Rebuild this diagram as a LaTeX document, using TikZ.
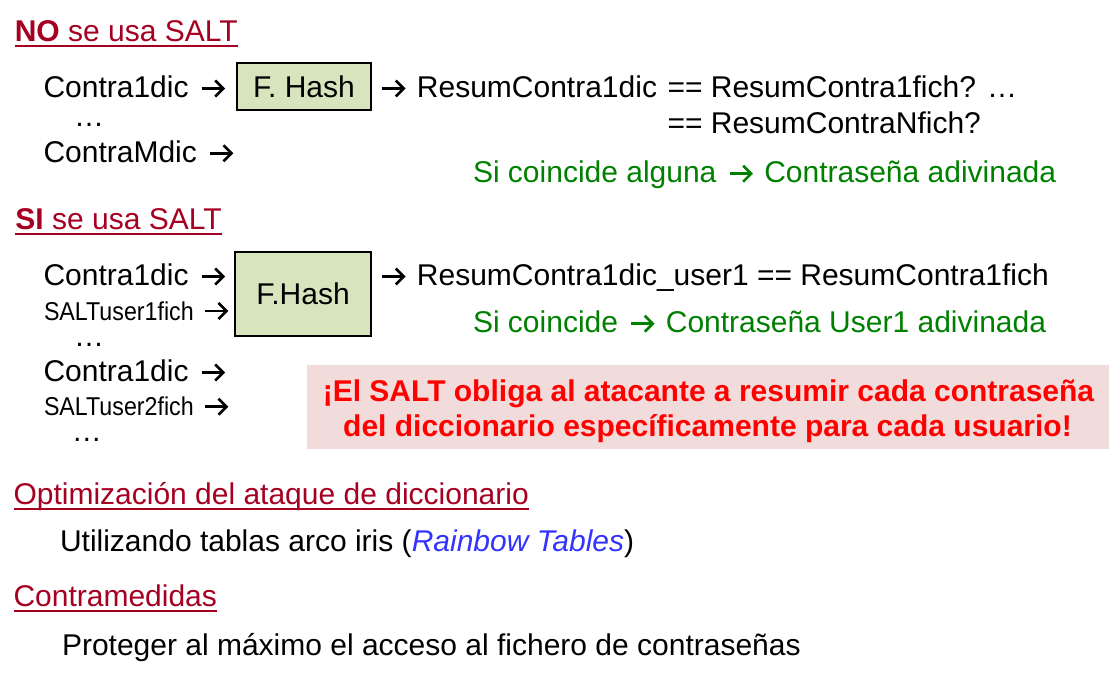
\documentclass[tikz,border=0pt]{standalone}
\usepackage{fontspec}
\setmainfont{Liberation Sans}
\newfontfamily\narrowfont[FakeStretch=0.9]{Liberation Sans}
\definecolor{hdrred}{HTML}{A50021}
\definecolor{okgreen}{HTML}{008000}
\definecolor{boxgreen}{HTML}{D7E4BD}
\definecolor{boxpink}{HTML}{F2DCDB}
\definecolor{alertred}{HTML}{FF0000}
\definecolor{rbblue}{HTML}{3333FF}
\newcommand\fs{\fontsize{30}{35}\selectfont}
\newcommand\nfs{\narrowfont\fontsize{25.8}{30}\selectfont}
\newcommand\arr{\hspace{3.5pt}\tikz[x=1pt,y=1pt,baseline=0pt,line width=2.6pt]{\draw (0,9)--(20,9); \draw[line join=miter] (13.5,17)--(21.5,9)--(13.5,1);}\hspace{3.5pt}}
\tikzset{
  txt/.style={anchor=base west, inner sep=0pt, outer sep=0pt, font=\fs, text=black},
  hdr/.style={txt, text=hdrred},
  ok/.style={txt, text=okgreen},
  narrowtxt/.style={txt, font=\nfs},
  ul/.style={draw=hdrred, line width=2pt},
  hashbox/.style={draw=black, line width=2pt, fill=boxgreen, inner sep=0pt, font=\fs},
  alerttxt/.style={anchor=base, inner sep=0pt, font=\fs\bfseries, text=alertred}
}
\begin{document}
\begin{tikzpicture}[x=1pt,y=-1pt]
\useasboundingbox (0,0) rectangle (1115,672);

% NO se usa SALT
\node[hdr] (h1) at (14.8,41.7) {\textbf{NO} se usa SALT};
\draw[ul] ([yshift=-4.2pt]h1.base west) -- ([yshift=-4.2pt]h1.base east);
\node[txt] (c1) at (43.5,97.5) {Contra1dic \arr};
\node[hashbox, minimum width=134pt, minimum height=47pt] (hash1) at (304,86.5) {F. Hash};
\node[txt] (r1) at (377.5,97.5) {\arr{} ResumContra1dic};
\node[txt] (q1) at (667.5,97.5) {== ResumContra1fich? …};
\node[txt] (q2) at (667.5,133.3) {== ResumContraNfich?};
\node[txt] (d1) at (74,126.5) {…};
\node[txt] (cm) at (43.5,162.3) {ContraMdic \arr};
\node[ok] (g1) at (473,182.7) {Si coincide alguna \arr{} Contraseña adivinada};

% SI se usa SALT
\node[hdr] (h2) at (15.4,229.3) {\textbf{SI} se usa SALT};
\draw[ul] ([yshift=-4.7pt]h2.base west) -- ([yshift=-4.7pt]h2.base east);
\node[txt] (c2) at (43.5,285.5) {Contra1dic \arr};
\node[narrowtxt] (s1) at (44,320) {SALTuser1fich \arr};
\node[txt] (d2) at (74,346.7) {…};
\node[txt] (c3) at (43.5,381.5) {Contra1dic \arr};
\node[narrowtxt] (s2) at (44,415.7) {SALTuser2fich \arr};
\node[txt] (d3) at (71.8,441.7) {…};
\node[hashbox, minimum width=136pt, minimum height=83.5pt] (hash2) at (303,293.75) {F.Hash};
\node[txt] (r2) at (377.5,285.5) {\arr{} ResumContra1dic\_user1 == ResumContra1fich};
\node[ok] (g2) at (473,332.7) {Si coincide \arr{} Contraseña User1 adivinada};

% alert box
\node[fill=boxpink, inner sep=0pt, minimum width=802.3pt, minimum height=84.3pt] (alert) at (707.85,407.15) {};
\node[alerttxt] (a1) at (708.5,401.7) {¡El SALT obliga al atacante a resumir cada contraseña};
\node[alerttxt] (a2) at (707.5,436) {del diccionario específicamente para cada usuario!};

% Optimizacion
\node[hdr] (h3) at (13.5,504.3) {Optimización del ataque de diccionario};
\draw[ul] ([yshift=-5pt]h3.base west) -- ([yshift=-5pt]h3.base east);
\node[txt] (u1) at (60,551.7) {Utilizando tablas arco iris (\textcolor{rbblue}{\itshape Rainbow Tables})};

% Contramedidas
\node[hdr] (h4) at (13.5,606.7) {Contramedidas};
\draw[ul] ([yshift=-4.6pt]h4.base west) -- ([yshift=-4.6pt]h4.base east);
\node[txt] (p1) at (62,655) {Proteger al máximo el acceso al fichero de contraseñas};
\end{tikzpicture}
\end{document}
